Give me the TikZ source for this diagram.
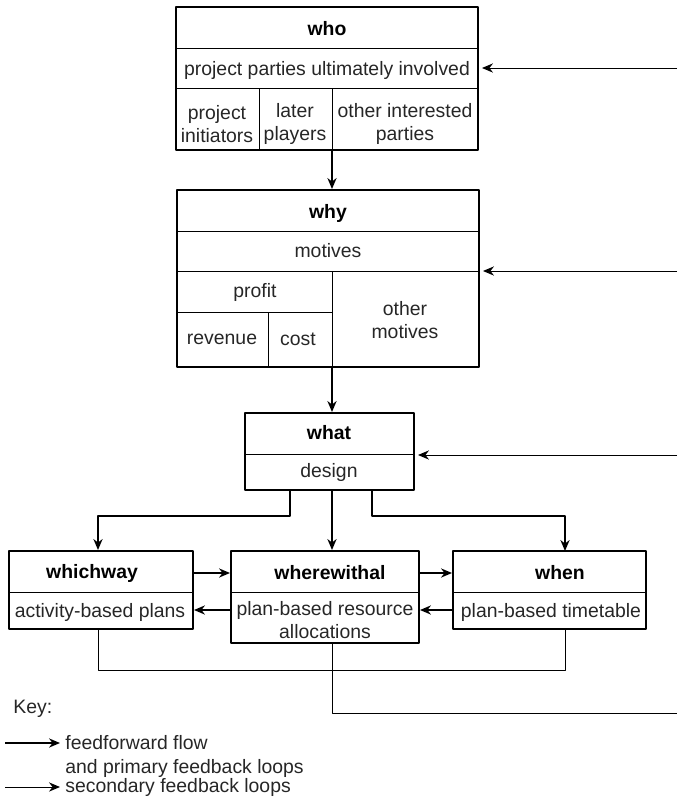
\documentclass[tikz,border=0pt]{standalone}
\usepackage{fontspec}
\setmainfont{Liberation Sans}
\usetikzlibrary{arrows.meta,fit}
\tikzset{
  every picture/.style={line join=round, >={Stealth[length=5.5pt,width=4.6pt,inset=1.8pt]}},
  box/.style={draw, line width=1pt, inner sep=0pt},
  cell/.style={line width=0.45pt},
  flow/.style={->, line width=0.7pt},
  back/.style={->, line width=0.5pt, shorten >=1.5pt},
  lowline/.style={line width=0.5pt},
  txt/.style={inner sep=0pt, align=center, text=black!85, font=\fontsize{9.7}{11.5}\selectfont},
  ttl/.style={inner sep=0pt, font=\fontsize{9.7}{11.5}\selectfont\bfseries},
}

\begin{document}
\begin{tikzpicture}[x=0.5pt,y=-0.5pt]
\useasboundingbox (0,0) rectangle (677,804);
% boxes
\node[box, fit={(176,7) (478,150)}] (who) {};
\node[box, fit={(177,190) (479,367)}] (why) {};
\node[box, fit={(245,413) (414,490)}] (what) {};
\node[box, fit={(9,551) (193,629)}] (whichway) {};
\node[box, fit={(231,551) (419,643)}] (wherewithal) {};
\node[box, fit={(453,551) (646,629)}] (when) {};
% cells
\draw[cell] (176,48)--(478,48) (176,88)--(478,88) (259,88)--(259,150) (332,88)--(332,150);
\draw[cell] (177,231)--(479,231) (177,271)--(479,271) (332,271)--(332,367)
  (177,312)--(332,312) (268,312)--(268,367);
\draw[cell] (245,454)--(414,454);
\draw[cell] (9,592)--(193,592) (231,592)--(419,592) (453,592)--(646,592);
% texts
\node[ttl] (whoT) at (327,29) {who};
\node[txt] (parties) at (327,70) {project parties ultimately involved};
\node[txt] (initiators) at (217,124) {project\\initiators};
\node[txt] (players) at (295,124) {later\\players};
\node[txt] (interested) at (405,124) {other interested\\parties};
\node[ttl] (whyT) at (328,213) {why};
\node[txt] (motives) at (328,251) {motives};
\node[txt] (profit) at (255,292) {profit};
\node[txt] (revenue) at (222,339) {revenue};
\node[txt] (cost) at (298,339) {cost};
\node[txt] (othermot) at (405,320) {other\\motives};
\node[ttl] (whatT) at (329,433) {what};
\node[txt] (design) at (329,472) {design};
\node[ttl] (whichwayT) at (92,573) {whichway};
\node[txt] (plans) at (100,612) {activity-based plans};
\node[ttl] (wherewithalT) at (330,573) {wherewithal};
\node[txt] (alloc) at (325,620) {plan-based resource\\allocations};
\node[ttl] (whenT) at (560,573) {when};
\node[txt] (timetable) at (551,612) {plan-based timetable};
% connectors
\coordinate (spine) at (332,0);
\coordinate (edge) at (677,0);
\coordinate (lft) at (290,516);
\coordinate (rgt) at (372,516);
\coordinate (whenin) at (565,551);
\coordinate (fwd) at (0,573);
\coordinate (bwd) at (0,610);
\draw[flow] (who.south -| spine) -- (why.north -| spine);
\draw[flow] (why.south -| spine) -- (what.north -| spine);
\draw[flow] (what.south -| lft) -- (lft) -| (whichway.north -| 98,0);
\draw[flow] (what.south -| spine) -- (wherewithal.north -| spine);
\draw[flow] (what.south -| rgt) -- (rgt) -| (whenin);
\draw[flow] (whichway.east |- fwd) -- (wherewithal.west |- fwd);
\draw[flow] (wherewithal.east |- fwd) -- (when.west |- fwd);
\draw[flow] (wherewithal.west |- bwd) -- (whichway.east |- bwd);
\draw[flow] (when.west |- bwd) -- (wherewithal.east |- bwd);
\draw[back] (edge |- 0,68) -- (who.east |- 0,68);
\draw[back] (edge |- 0,271) -- (why.east |- 0,271);
\draw[back] (edge |- 0,455) -- (what.east |- 0,455);
\coordinate (lowA) at (98,670);
\coordinate (lowB) at (565,670);
\coordinate (lowC) at (332,713);
\draw[lowline] (whichway.south -| lowA) -- (lowA) -- (lowB) -- (when.south -| lowB);
\draw[lowline] (wherewithal.south -| lowC) -- (lowC) -- (edge |- lowC);
% key
\node[txt, anchor=west] (key) at (13,709) {Key:};
\coordinate (k1a) at (5,743);
\coordinate (k1b) at (60,743);
\coordinate (k2a) at (5,787);
\coordinate (k2b) at (60,787);
\draw[flow] (k1a) -- (k1b);
\draw[back, shorten >=0pt] (k2a) -- (k2b);
\node[txt, anchor=west] (keyff) at (65,743) {feedforward flow};
\node[txt, anchor=west] (keypf) at (65,768) {and primary feedback loops};
\node[txt, anchor=west] (keysf) at (65,787) {secondary feedback loops};
\end{tikzpicture}
\end{document}
